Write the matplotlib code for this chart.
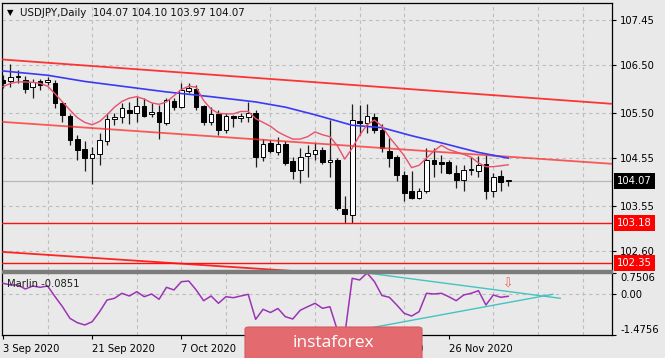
import matplotlib
matplotlib.use("Agg")
import matplotlib.pyplot as plt
import numpy as np
from matplotlib.patches import FancyBboxPatch, Rectangle

# ---------------- data ----------------
opens = [106.19, 106.17, 106.26, 106.19, 106.04, 106.17, 106.15, 106.13, 105.71, 105.43,
         104.95, 104.74, 104.55, 104.64, 104.92, 105.37, 105.42, 105.55, 105.49, 105.64,
         105.47, 105.52, 105.28, 105.74, 105.62, 105.95, 106.00, 105.64, 105.31, 105.48,
         105.14, 105.43, 105.39, 105.42, 105.49, 104.58, 104.86, 104.68, 104.84, 104.48,
         104.31, 104.59, 104.64, 104.72, 104.47, 104.51, 103.48, 103.36, 105.33, 105.28,
         105.41, 105.14, 104.70, 104.58, 104.20, 103.85, 103.71, 103.85, 104.51, 104.46,
         104.46, 104.24, 104.09, 104.30, 104.29, 104.43, 103.87, 104.17, 104.07]
highs = [106.30, 106.53, 106.40, 106.27, 106.21, 106.21, 106.25, 106.19, 105.73, 105.47,
         105.03, 104.90, 104.79, 105.08, 105.50, 105.50, 105.71, 105.73, 105.84, 105.81,
         105.71, 105.67, 105.81, 105.81, 106.12, 106.12, 106.09, 105.66, 105.63, 105.56,
         105.50, 105.45, 105.49, 105.73, 105.56, 104.95, 104.93, 105.00, 104.90, 104.58,
         104.76, 104.83, 104.86, 104.79, 105.35, 104.55, 103.76, 105.69, 105.67, 105.69,
         105.49, 105.27, 104.97, 104.62, 104.27, 104.27, 103.92, 104.76, 104.76, 104.62,
         104.51, 104.41, 104.41, 104.58, 104.59, 104.62, 104.23, 104.30, 104.10]
lows = [106.02, 106.04, 106.13, 105.92, 105.81, 105.98, 106.09, 105.60, 105.31, 104.83,
        104.51, 104.27, 104.00, 104.41, 104.83, 105.25, 105.29, 105.27, 105.31, 105.42,
        105.42, 104.95, 105.25, 105.56, 105.60, 105.91, 105.57, 105.25, 105.25, 105.04,
        105.08, 105.20, 105.31, 105.30, 104.37, 104.48, 104.65, 104.62, 104.41, 104.11,
        104.03, 104.16, 104.51, 104.43, 104.15, 103.46, 103.18, 103.18, 105.04, 105.07,
        105.08, 104.68, 104.37, 104.06, 103.64, 103.69, 103.69, 103.81, 104.16, 104.24,
        104.22, 103.92, 103.85, 104.20, 104.16, 103.69, 103.74, 103.85, 103.97]
closes = [106.12, 106.25, 106.27, 106.00, 106.15, 106.09, 106.19, 105.71, 105.46, 104.93,
          104.72, 104.55, 104.64, 104.93, 105.37, 105.41, 105.60, 105.49, 105.64, 105.44,
          105.52, 105.30, 105.76, 105.63, 105.98, 106.02, 105.63, 105.31, 105.47, 105.14,
          105.43, 105.40, 105.43, 105.49, 104.58, 104.84, 104.71, 104.84, 104.44, 104.29,
          104.58, 104.65, 104.73, 104.46, 104.52, 103.50, 103.37, 105.34, 105.29, 105.43,
          105.14, 104.76, 104.56, 104.20, 103.81, 103.71, 103.85, 104.51, 104.43, 104.43,
          104.24, 104.10, 104.30, 104.33, 104.41, 103.85, 104.16, 104.05, 104.07]

# fast moving average (read per bar)
ma_fast = [106.05, 106.12, 106.15, 106.15, 106.14, 106.12, 106.06, 105.90, 105.73, 105.56,
           105.40, 105.30, 105.25, 105.32, 105.46, 105.62, 105.74, 105.81, 105.84, 105.79,
           105.71, 105.68, 105.73, 105.86, 105.99, 106.06, 106.04, 105.76, 105.58, 105.49,
           105.48, 105.48, 105.53, 105.53, 105.38, 105.30, 105.22, 105.10, 105.02, 104.95,
           104.95, 105.00, 105.10, 105.04, 105.00, 104.81, 104.53, 104.76, 105.03, 105.25,
           105.35, 105.22, 104.99, 104.80, 104.60, 104.35, 104.40, 104.55, 104.70, 104.82,
           104.73, 104.68, 104.63, 104.57, 104.45, 104.37, 104.37, 104.39, 104.41]

# slow moving average (read at sample bars)
ma_slow_bars = [0, 6, 11, 17, 22, 28, 34, 38, 42, 47, 51, 55, 59, 64, 68]
ma_slow = [106.38, 106.29, 106.16, 106.04, 105.94, 105.84, 105.73, 105.62, 105.46, 105.24,
           105.19, 105.02, 104.87, 104.67, 104.55]

# channel lines (bar, price end points)
channel_bars = [0, 82]
channel_upper = [106.62, 105.69]
channel_lower = [105.31, 104.43]
channel_bottom = [102.58, 101.74]

levels = [103.18, 102.35]
last_price = 104.07

# Marlin indicator per bar
marlin = [0.381, 0.320, 0.320, 0.176, 0.284, 0.237, 0.284, -0.100, -0.459, -0.876,
          -1.034, -1.116, -0.998, -0.639, -0.219, -0.158, 0.022, -0.075, 0.079, -0.100,
          -0.003, -0.194, 0.237, 0.141, 0.438, 0.463, 0.141, -0.244, -0.075, -0.337,
          -0.100, -0.136, -0.075, -0.014, -0.912, -0.553, -0.668, -0.524, -0.818, -0.901,
          -0.588, -0.459, -0.337, -0.517, -0.459, -1.300, -1.4756, 0.560, 0.499, 0.7506,
          0.438, -0.057, -0.122, -0.398, -0.696, -0.795, -0.639, 0.022, -0.003, 0.022,
          -0.100, -0.244, -0.039, 0.022, 0.115, -0.398, -0.039, -0.122, -0.0851]
marlin_upper_bars = [49, 75]
marlin_upper = [0.7506, -0.158]
marlin_lower_bars = [45.4, 74]
marlin_lower = [-1.42, -0.014]

price_ticks = [107.45, 106.50, 105.50, 104.55, 103.55, 102.60]
ind_ticks = [0.7506, 0.0, -1.4756]
date_tick_bars = [0, 12, 24, 36, 48, 60]
date_labels = ["3 Sep 2020", "21 Sep 2020", "7 Oct 2020", "23 Oct 2020", "10 Nov 2020", "26 Nov 2020"]

title = "USDJPY,Daily  104.07 104.10 103.97 104.07"
ind_title = "Marlin -0.0851"

# ---------------- figure ----------------
W, H, DPI = 665, 358, 100
plt.rcParams['font.family'] = ['DejaVu Sans']
plt.rcParams['font.size'] = 7.2
BG = '#E9E9E9'
GRID = '#BDBDBD'

fig = plt.figure(figsize=(W / DPI, H / DPI), dpi=DPI)
fig.patch.set_facecolor(BG)

def fx(px):
    return px / W

def fy(py):
    return 1 - py / H

L, R = 2, 612
ax = fig.add_axes([fx(L), fy(270), fx(R) - fx(L), fy(3) - fy(270)])
ax2 = fig.add_axes([fx(L), fy(335), fx(R) - fx(L), fy(273) - fy(335)])

xmin, xmax = -0.14, 81.97
for a in (ax, ax2):
    a.set_facecolor(BG)
    a.set_xlim(xmin, xmax)
    for s in a.spines.values():
        s.set_color('black')
        s.set_linewidth(0.9)
    a.set_xticks(np.arange(0, 82, 6), minor=True)
    a.grid(which='minor', axis='x', color=GRID, linestyle=(0, (3, 3)), lw=0.8)
    a.tick_params(axis='x', which='minor', length=0)

# separator band
fig.patches.append(Rectangle((fx(L), fy(273)), fx(R) - fx(L), fy(270) - fy(273),
                             transform=fig.transFigure, color='#7C7C7C', zorder=10))

# ---- main panel ----
ax.set_ylim(102.201, 107.807)
ax.yaxis.tick_right()
ax.set_yticks(price_ticks)
ax.set_yticklabels([f"{v:.2f}" for v in price_ticks])
ax.tick_params(axis='y', length=3, pad=3, labelsize=7.2, colors='black')
ax.tick_params(axis='x', which='both', bottom=False, labelbottom=False)
ax.grid(axis='y', color=GRID, linestyle=(0, (3, 3)), lw=0.8)
ax.spines['bottom'].set_visible(False)

o, h, l, c = map(np.array, (opens, highs, lows, closes))
xb = np.arange(len(o))
up = c >= o
ax.axhline(last_price, color='#B8B8B8', lw=0.9, zorder=2)
for lv in levels:
    ax.axhline(lv, color='#FF1010', lw=1.0, zorder=5)

ax.vlines(xb, l, h, color='#1C1C1C', lw=0.9, zorder=3)
bb = np.minimum(o, c)
bh = np.maximum(np.abs(c - o), 0.012)
ax.bar(xb[up], bh[up], bottom=bb[up], width=0.62, color='white', edgecolor='black', lw=0.7, zorder=4)
ax.bar(xb[~up], bh[~up], bottom=bb[~up], width=0.62, color='black', edgecolor='black', lw=0.7, zorder=4)

ax.plot(channel_bars, channel_upper, color='#FF2020', lw=1.3, alpha=0.9, zorder=5)
ax.plot(channel_bars, channel_lower, color='#FF2828', lw=1.3, alpha=0.75, zorder=5)
ax.plot(channel_bars, channel_bottom, color='#FF1010', lw=1.3, alpha=0.9, zorder=5)
ax.plot(ma_slow_bars, ma_slow, color='#3A3AF5', lw=1.2, zorder=6)
ax.plot(xb, ma_fast, color='#E8506C', lw=1.0, zorder=6)

# price labels on the right
ytr = ax.get_yaxis_transform()
ax.text(1.0085, last_price, f"{last_price:.2f}", transform=ytr, color='white', ha='left', va='center',
        fontsize=7.2, clip_on=False, zorder=12,
        bbox=dict(boxstyle='square,pad=0.3', fc='black', ec='none'))
for lv in levels:
    ax.text(1.0085, lv, f"{lv:.2f}", transform=ytr, color='white', ha='left', va='center',
            fontsize=7.2, clip_on=False, zorder=12,
            bbox=dict(boxstyle='square,pad=0.3', fc='#FF0000', ec='none'))

# title
fig.text(fx(7), fy(12.5), '\u25BC', fontsize=6, ha='left', va='center', color='black')
fig.text(fx(20), fy(12.5), title, fontsize=7.4, ha='left', va='center', color='#101010')

# ---- indicator panel ----
ax2.set_ylim(-1.4756, 0.7506)
ax2.yaxis.tick_right()
ax2.set_yticks(ind_ticks)
ax2.set_yticklabels(["0.7506", "0.00", "-1.4756"])
ax2.tick_params(axis='y', length=3, pad=3, labelsize=7.2)
tl = ax2.get_yticklabels()
tl[0].set_va('top')
tl[2].set_va('bottom')
ax2.axhline(0, color=GRID, linestyle=(0, (3, 3)), lw=0.8, zorder=1)
ax2.spines['top'].set_visible(False)

ax2.set_xticks(date_tick_bars)
ax2.set_xticklabels(date_labels)
ax2.tick_params(axis='x', which='major', length=3, pad=3.5, labelsize=7.2)
for t in ax2.get_xticklabels():
    t.set_ha('left')

ax2.plot(xb, marlin, color='#9B34B4', lw=1.1, zorder=4)
ax2.plot(marlin_upper_bars, marlin_upper, color='#45C3C0', lw=1.0, zorder=3)
ax2.plot(marlin_lower_bars, marlin_lower, color='#45C3C0', lw=1.0, zorder=3)
ax2.text(68, 0.36, '\u21E9', color='#F0604A', fontsize=9, ha='center', va='center', zorder=5)
ax2.text(0.008, 0.82, ind_title, transform=ax2.transAxes, fontsize=7.2, ha='left', va='center',
         color='#202020', zorder=6)

# ---- logo ----
logo = FancyBboxPatch((fx(245), fy(360)), fx(422) - fx(245), fy(327) - fy(360),
                      boxstyle='round,pad=0,rounding_size=0.006', transform=fig.transFigure,
                      fc='#E36B6F', ec='#D45C60', lw=0.8, zorder=20)
fig.patches.append(logo)
fig.text(fx(333), fy(343), 'instaforex', color='white', fontsize=12.5, ha='center', va='center',
         family=['Open Sans', 'DejaVu Sans'], zorder=21)

fig.savefig('out.png', dpi=DPI, facecolor=BG)
